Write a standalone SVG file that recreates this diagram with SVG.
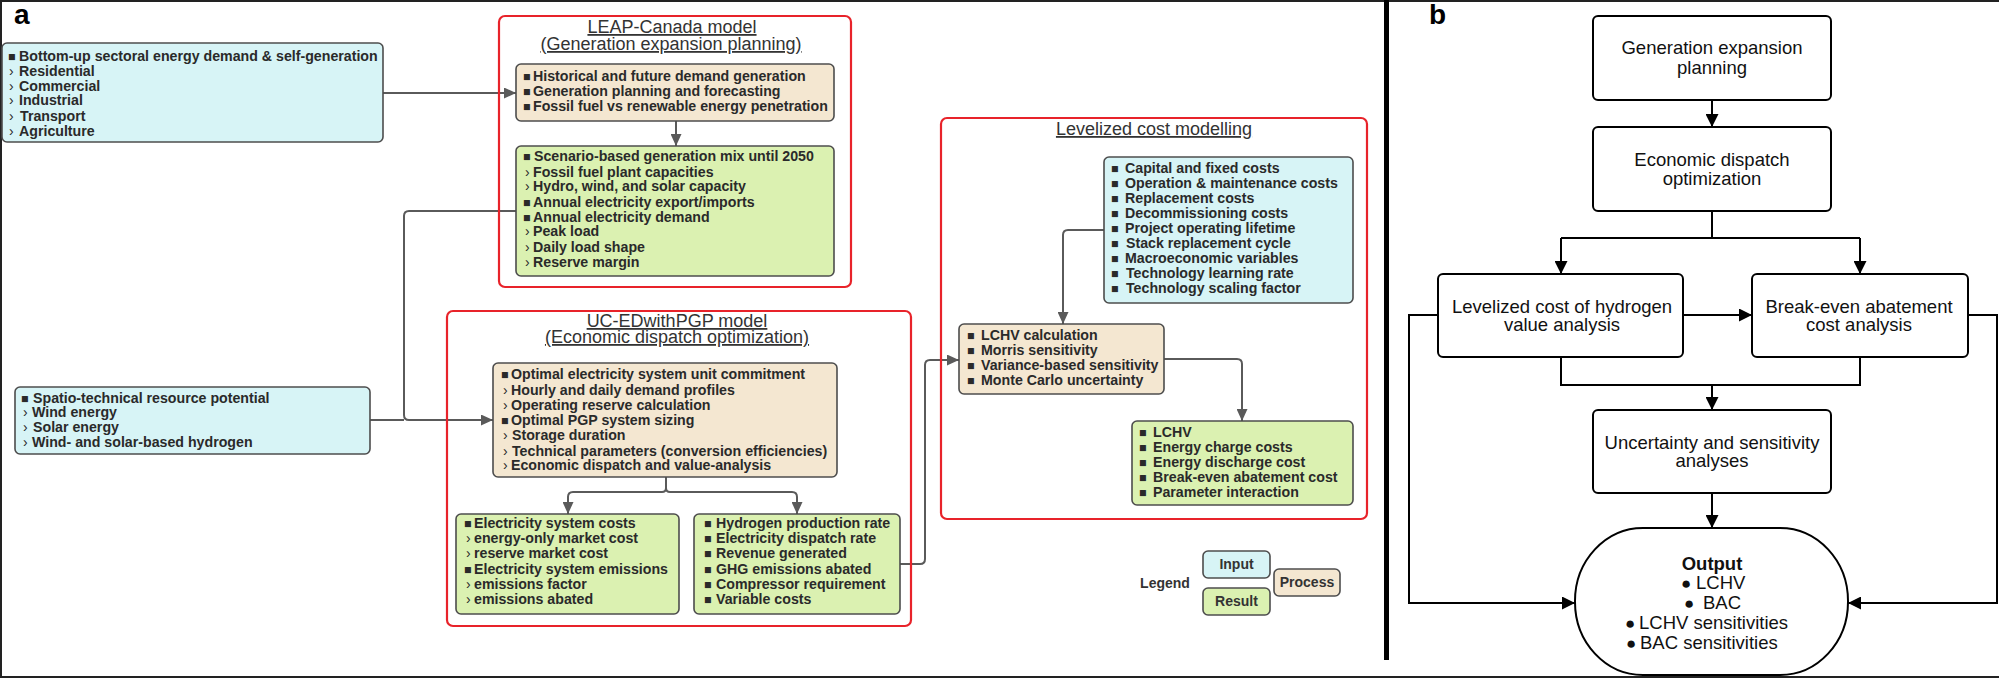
<svg xmlns="http://www.w3.org/2000/svg" width="2000" height="679" viewBox="0 0 2000 679">
<defs>
<style>
.box{stroke:#4d4d4d;stroke-width:1.6}
.in{fill:#d7f4f6}.pr{fill:#f4e7d1}.rs{fill:#dbf1b1}
.red{fill:none;stroke:#e8232a;stroke-width:2.2}
.t{font-family:"Liberation Sans",Arial,sans-serif;font-size:14.2px;font-weight:bold;fill:#2a2a2a}
.b{font-size:12.5px}
.c{font-weight:normal;font-size:14px}
.h{font-family:"Liberation Sans",Arial,sans-serif;font-size:18px;fill:#333;text-anchor:middle;text-decoration:underline}
.con{fill:none;stroke:#5a5a5a;stroke-width:2}
.bk{fill:none;stroke:#000;stroke-width:2}
.bb{fill:#fff;stroke:#000;stroke-width:2}
.bt{font-family:"Liberation Sans",Arial,sans-serif;font-size:18.5px;fill:#111;text-anchor:middle}
.bs{font-family:"Liberation Sans",Arial,sans-serif;font-size:18.5px;fill:#111}
.d{font-size:17px}
.lab{font-family:"Liberation Sans",Arial,sans-serif;font-size:28px;font-weight:bold;fill:#000}
.lg{font-family:"Liberation Sans",Arial,sans-serif;font-size:14px;font-weight:bold;fill:#333;text-anchor:middle}
</style>
<marker id="ag" markerWidth="12" markerHeight="11" refX="12" refY="5.5" orient="auto" markerUnits="userSpaceOnUse"><path d="M0,0 L12,5.5 L0,11 z" fill="#5a5a5a"/></marker>
<marker id="ab" markerWidth="13" markerHeight="13" refX="13" refY="6.5" orient="auto" markerUnits="userSpaceOnUse"><path d="M0,0 L13,6.5 L0,13 z" fill="#000"/></marker>
</defs>
<rect x="0" y="0" width="2000" height="679" fill="#fff"/>
<path d="M1999,1 H1 V677 H1999" fill="none" stroke="#222" stroke-width="2"/>
<rect x="1384" y="0" width="5" height="660" fill="#000"/>
<text class="lab" x="14" y="24">a</text>
<text class="lab" x="1429" y="24">b</text>

<g id="connectors">
<path class="con" d="M383,93 H516" marker-end="url(#ag)"/>
<path class="con" d="M676,121 V146" marker-end="url(#ag)"/>
<path class="con" d="M516,211 H409 Q404,211 404,216 V415 Q404,420 409,420 H493" marker-end="url(#ag)"/>
<path class="con" d="M370,420 H404"/>
<path class="con" d="M666,477 V488 Q666,492 662,492 H573 Q568,492 568,497 V514" marker-end="url(#ag)"/>
<path class="con" d="M666,488 Q666,492 670,492 H792 Q797,492 797,497 V514" marker-end="url(#ag)"/>
<path class="con" d="M900,564 H920 Q925,564 925,559 V365 Q925,360 930,360 H959" marker-end="url(#ag)"/>
<path class="con" d="M1104,230 H1068 Q1063,230 1063,235 V324" marker-end="url(#ag)"/>
<path class="con" d="M1164,359 H1237 Q1242,359 1242,364 V421" marker-end="url(#ag)"/>
<path class="bk" d="M1712,100 V127" marker-end="url(#ab)"/>
<path class="bk" d="M1712,211 V238"/>
<path class="bk" d="M1561,238 H1860"/>
<path class="bk" d="M1561,238 V274" marker-end="url(#ab)"/>
<path class="bk" d="M1860,238 V274" marker-end="url(#ab)"/>
<path class="bk" d="M1683,315 H1752" marker-end="url(#ab)"/>
<path class="bk" d="M1438,315 H1409 V603 H1575" marker-end="url(#ab)"/>
<path class="bk" d="M1968,315 H1997 V603 H1848" marker-end="url(#ab)"/>
<path class="bk" d="M1561,357 V385 H1860 V357"/>
<path class="bk" d="M1712,385 V410" marker-end="url(#ab)"/>
<path class="bk" d="M1712,493 V528" marker-end="url(#ab)"/>
</g>

<g id="input-demand">
<rect class="box in" x="2" y="43" width="381" height="99" rx="5"/>
<text class="t" y="61"><tspan x="8" class="b">■</tspan><tspan x="19">Bottom-up sectoral energy demand &amp; self-generation</tspan></text>
<text class="t" y="75.5"><tspan x="9" class="c">›</tspan><tspan x="19">Residential</tspan></text>
<text class="t" y="90.5"><tspan x="9" class="c">›</tspan><tspan x="19">Commercial</tspan></text>
<text class="t" y="105"><tspan x="9" class="c">›</tspan><tspan x="19">Industrial</tspan></text>
<text class="t" y="120.5"><tspan x="9" class="c">›</tspan><tspan x="20">Transport</tspan></text>
<text class="t" y="136"><tspan x="9" class="c">›</tspan><tspan x="19">Agriculture</tspan></text>
</g>

<g id="input-resource">
<rect class="box in" x="15" y="387" width="355" height="67" rx="5"/>
<text class="t" y="403"><tspan x="21" class="b">■</tspan><tspan x="33">Spatio-technical resource potential</tspan></text>
<text class="t" y="417"><tspan x="23" class="c">›</tspan><tspan x="32">Wind energy</tspan></text>
<text class="t" y="432"><tspan x="23" class="c">›</tspan><tspan x="33">Solar energy</tspan></text>
<text class="t" y="447"><tspan x="23" class="c">›</tspan><tspan x="32">Wind- and solar-based hydrogen</tspan></text>
</g>

<g id="leap-canada">
<rect class="red" x="499" y="16" width="352" height="271" rx="6"/>
<text class="h" x="672" y="33">LEAP-Canada model</text>
<text class="h" x="671" y="50">(Generation expansion planning)</text>
</g>

<g id="leap-process">
<rect class="box pr" x="516" y="64" width="318" height="57" rx="5"/>
<text class="t" y="81"><tspan x="523" class="b">■</tspan><tspan x="533">Historical and future demand generation</tspan></text>
<text class="t" y="96"><tspan x="523" class="b">■</tspan><tspan x="533">Generation planning and forecasting</tspan></text>
<text class="t" y="111"><tspan x="523" class="b">■</tspan><tspan x="533">Fossil fuel vs renewable energy penetration</tspan></text>
</g>

<g id="leap-result">
<rect class="box rs" x="516" y="146" width="318" height="130" rx="5"/>
<text class="t" y="161"><tspan x="523" class="b">■</tspan><tspan x="534">Scenario-based generation mix until 2050</tspan></text>
<text class="t" y="176.5"><tspan x="525" class="c">›</tspan><tspan x="533">Fossil fuel plant capacities</tspan></text>
<text class="t" y="191"><tspan x="525" class="c">›</tspan><tspan x="533">Hydro, wind, and solar capacity</tspan></text>
<text class="t" y="206.5"><tspan x="523" class="b">■</tspan><tspan x="533">Annual electricity export/imports</tspan></text>
<text class="t" y="221.5"><tspan x="523" class="b">■</tspan><tspan x="533">Annual electricity demand</tspan></text>
<text class="t" y="236"><tspan x="525" class="c">›</tspan><tspan x="533">Peak load</tspan></text>
<text class="t" y="251.5"><tspan x="525" class="c">›</tspan><tspan x="533">Daily load shape</tspan></text>
<text class="t" y="266.5"><tspan x="525" class="c">›</tspan><tspan x="533">Reserve margin</tspan></text>
</g>

<g id="uc-ed">
<rect class="red" x="447" y="311" width="464" height="315" rx="6"/>
<text class="h" x="677" y="327">UC-EDwithPGP model</text>
<text class="h" x="677" y="343">(Economic dispatch optimization)</text>
</g>

<g id="uc-ed-process">
<rect class="box pr" x="493" y="363" width="344" height="114" rx="5"/>
<text class="t" y="379"><tspan x="501" class="b">■</tspan><tspan x="511">Optimal electricity system unit commitment</tspan></text>
<text class="t" y="395"><tspan x="503" class="c">›</tspan><tspan x="511">Hourly and daily demand profiles</tspan></text>
<text class="t" y="410"><tspan x="503" class="c">›</tspan><tspan x="511">Operating reserve calculation</tspan></text>
<text class="t" y="424.5"><tspan x="501" class="b">■</tspan><tspan x="511">Optimal PGP system sizing</tspan></text>
<text class="t" y="440"><tspan x="503" class="c">›</tspan><tspan x="512">Storage duration</tspan></text>
<text class="t" y="455.5"><tspan x="503" class="c">›</tspan><tspan x="512">Technical parameters (conversion efficiencies)</tspan></text>
<text class="t" y="470"><tspan x="503" class="c">›</tspan><tspan x="511">Economic dispatch and value-analysis</tspan></text>
</g>

<g id="uc-ed-costs">
<rect class="box rs" x="456" y="514" width="223" height="100" rx="5"/>
<text class="t" y="528"><tspan x="464" class="b">■</tspan><tspan x="474">Electricity system costs</tspan></text>
<text class="t" y="543"><tspan x="466" class="c">›</tspan><tspan x="474">energy-only market cost</tspan></text>
<text class="t" y="558"><tspan x="466" class="c">›</tspan><tspan x="474">reserve market cost</tspan></text>
<text class="t" y="574"><tspan x="464" class="b">■</tspan><tspan x="474">Electricity system emissions</tspan></text>
<text class="t" y="589"><tspan x="466" class="c">›</tspan><tspan x="474">emissions factor</tspan></text>
<text class="t" y="604"><tspan x="466" class="c">›</tspan><tspan x="474">emissions abated</tspan></text>
</g>

<g id="uc-ed-hydrogen">
<rect class="box rs" x="694" y="514" width="206" height="100" rx="5"/>
<text class="t" y="528"><tspan x="704" class="b">■</tspan><tspan x="716">Hydrogen production rate</tspan></text>
<text class="t" y="543"><tspan x="704" class="b">■</tspan><tspan x="716">Electricity dispatch rate</tspan></text>
<text class="t" y="558"><tspan x="704" class="b">■</tspan><tspan x="716">Revenue generated</tspan></text>
<text class="t" y="574"><tspan x="704" class="b">■</tspan><tspan x="716">GHG emissions abated</tspan></text>
<text class="t" y="589"><tspan x="704" class="b">■</tspan><tspan x="716">Compressor requirement</tspan></text>
<text class="t" y="604"><tspan x="704" class="b">■</tspan><tspan x="716">Variable costs</tspan></text>
</g>

<g id="levelized">
<rect class="red" x="941" y="118" width="426" height="401" rx="6"/>
<text class="h" x="1154" y="135">Levelized cost modelling</text>
</g>

<g id="lc-input">
<rect class="box in" x="1104" y="157" width="249" height="146" rx="5"/>
<text class="t" y="172.5"><tspan x="1111" class="b">■</tspan><tspan x="1125">Capital and fixed costs</tspan></text>
<text class="t" y="187.5"><tspan x="1111" class="b">■</tspan><tspan x="1125">Operation &amp; maintenance costs</tspan></text>
<text class="t" y="202.5"><tspan x="1111" class="b">■</tspan><tspan x="1125">Replacement costs</tspan></text>
<text class="t" y="217.5"><tspan x="1111" class="b">■</tspan><tspan x="1125">Decommissioning costs</tspan></text>
<text class="t" y="232.5"><tspan x="1111" class="b">■</tspan><tspan x="1125">Project operating lifetime</tspan></text>
<text class="t" y="248"><tspan x="1111" class="b">■</tspan><tspan x="1126">Stack replacement cycle</tspan></text>
<text class="t" y="263"><tspan x="1111" class="b">■</tspan><tspan x="1125">Macroeconomic variables</tspan></text>
<text class="t" y="278"><tspan x="1111" class="b">■</tspan><tspan x="1126">Technology learning rate</tspan></text>
<text class="t" y="293"><tspan x="1111" class="b">■</tspan><tspan x="1126">Technology scaling factor</tspan></text>
</g>

<g id="lc-process">
<rect class="box pr" x="959" y="324" width="205" height="70" rx="5"/>
<text class="t" y="340"><tspan x="967" class="b">■</tspan><tspan x="981">LCHV calculation</tspan></text>
<text class="t" y="354.5"><tspan x="967" class="b">■</tspan><tspan x="981">Morris sensitivity</tspan></text>
<text class="t" y="370"><tspan x="967" class="b">■</tspan><tspan x="981">Variance-based sensitivity</tspan></text>
<text class="t" y="385"><tspan x="967" class="b">■</tspan><tspan x="981">Monte Carlo uncertainty</tspan></text>
</g>

<g id="lc-result">
<rect class="box rs" x="1132" y="421" width="221" height="84" rx="5"/>
<text class="t" y="437"><tspan x="1139" class="b">■</tspan><tspan x="1153">LCHV</tspan></text>
<text class="t" y="452"><tspan x="1139" class="b">■</tspan><tspan x="1153">Energy charge costs</tspan></text>
<text class="t" y="467"><tspan x="1139" class="b">■</tspan><tspan x="1153">Energy discharge cost</tspan></text>
<text class="t" y="482"><tspan x="1139" class="b">■</tspan><tspan x="1153">Break-even abatement cost</tspan></text>
<text class="t" y="497"><tspan x="1139" class="b">■</tspan><tspan x="1153">Parameter interaction</tspan></text>
</g>

<g id="legend">
<text class="lg" x="1165" y="588">Legend</text>
<rect class="box in" x="1203" y="551" width="67" height="27" rx="5"/>
<text class="lg" x="1236.5" y="569">Input</text>
<rect class="box rs" x="1203" y="588" width="67" height="27" rx="5"/>
<text class="lg" x="1236.5" y="606">Result</text>
<rect class="box pr" x="1274" y="569" width="66" height="27" rx="5"/>
<text class="lg" x="1307" y="587">Process</text>
</g>

<g id="b-gep">
<rect class="bb" x="1593" y="16" width="238" height="84" rx="5"/>
<text class="bt" x="1712" y="54">Generation expansion</text>
<text class="bt" x="1712" y="74">planning</text>
</g>
<g id="b-edo">
<rect class="bb" x="1593" y="127" width="238" height="84" rx="5"/>
<text class="bt" x="1712" y="166">Economic dispatch</text>
<text class="bt" x="1712" y="185">optimization</text>
</g>
<g id="b-lchv">
<rect class="bb" x="1438" y="274" width="245" height="83" rx="5"/>
<text class="bt" x="1562" y="313">Levelized cost of hydrogen</text>
<text class="bt" x="1562" y="331">value analysis</text>
</g>
<g id="b-bac">
<rect class="bb" x="1752" y="274" width="216" height="83" rx="5"/>
<text class="bt" x="1859" y="313">Break-even abatement</text>
<text class="bt" x="1859" y="331">cost analysis</text>
</g>
<g id="b-usa">
<rect class="bb" x="1593" y="410" width="238" height="83" rx="5"/>
<text class="bt" x="1712" y="449">Uncertainty and sensitivity</text>
<text class="bt" x="1712" y="467">analyses</text>
</g>
<g id="b-output">
<rect class="bb" x="1575" y="528" width="273" height="147" rx="68" ry="73"/>
<text class="bt" x="1712" y="570" font-weight="bold">Output</text>
<text class="bs" y="589"><tspan x="1681" class="d">●</tspan><tspan x="1696">LCHV</tspan></text>
<text class="bs" y="609"><tspan x="1684" class="d">●</tspan><tspan x="1703">BAC</tspan></text>
<text class="bs" y="629"><tspan x="1625" class="d">●</tspan><tspan x="1639">LCHV sensitivities</tspan></text>
<text class="bs" y="649"><tspan x="1626" class="d">●</tspan><tspan x="1640">BAC sensitivities</tspan></text>
</g>
</svg>
